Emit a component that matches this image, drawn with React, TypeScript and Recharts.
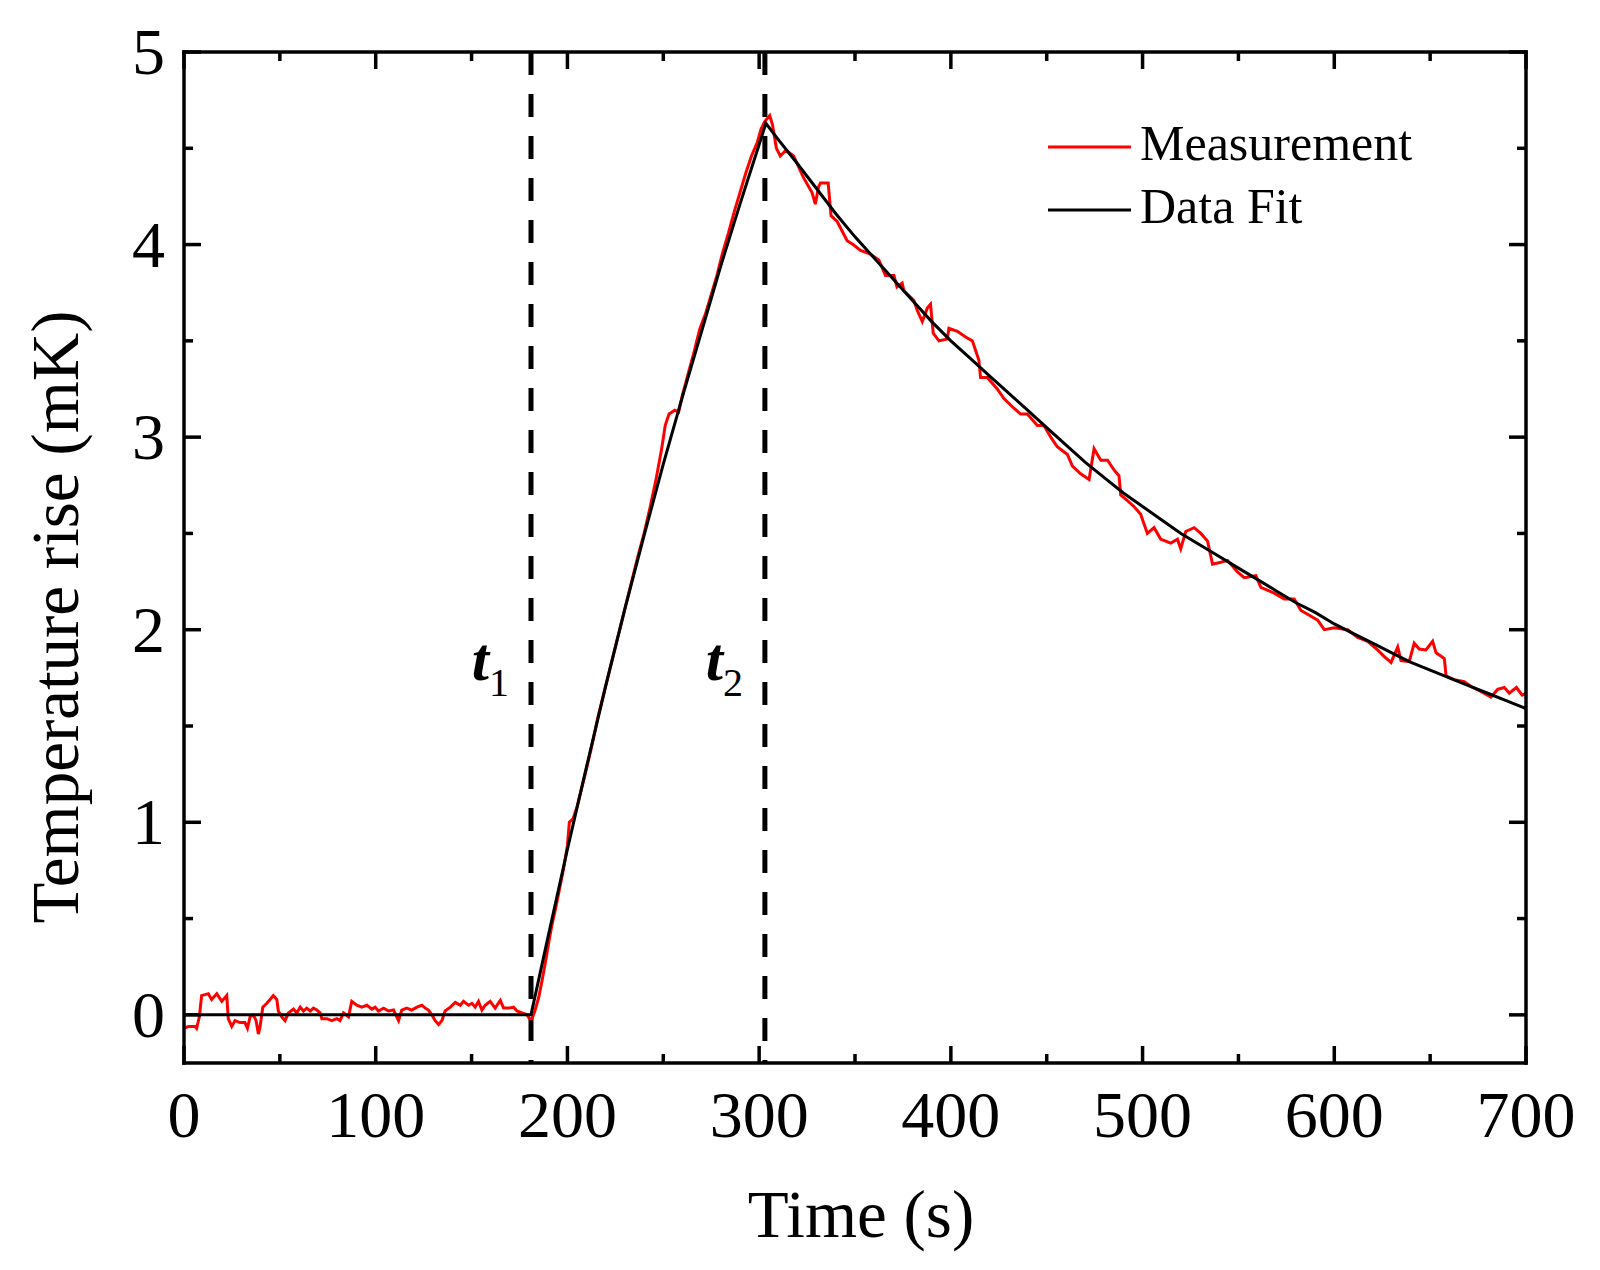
import { LineChart, Line, XAxis, YAxis, ReferenceLine, Legend } from "recharts";

const FONT = "'Liberation Serif', 'Times New Roman', Times, serif";

const measBefore = [
  [0, -0.07], [2.3, -0.06], [5.7, -0.06], [6.6, -0.07], [8, -0.01], [9.2, 0.1], [12.7, 0.11],
  [14.4, 0.08], [17.1, 0.11], [19.7, 0.07], [22.3, 0.1], [23.1, -0.02], [24.9, -0.06], [26.6, -0.03],
  [29.2, -0.04], [31.8, -0.04], [33.1, -0.07], [34.5, -0.01], [36.2, 0], [37.6, -0.03], [38.8, -0.1],
  [39.7, -0.06], [41.1, 0.04], [43.2, 0.06], [44.9, 0.08], [46.6, 0.1], [48.4, 0.08], [49.2, 0.02],
  [51, -0.01], [52.7, -0.03], [54.5, 0.01], [57.1, 0.03], [58.8, 0.01], [60.6, 0.04], [62.3, 0.02],
  [64, 0.035], [65.8, 0.02], [67.5, 0.035], [69.3, 0.025], [71, 0.01], [71.9, -0.02], [74.5, -0.02],
  [77.1, -0.03], [79.7, -0.02], [81.4, -0.03], [83.2, 0.01], [85.8, -0.01], [87.5, 0.07], [90.1, 0.05],
  [92.7, 0.04], [95.4, 0.05], [98, 0.03], [99.7, 0.04], [101.4, 0.02], [104.1, 0.035], [106.7, 0.02],
  [109.3, 0.025], [111.9, -0.03], [113.6, 0.025], [116.2, 0.035], [118.8, 0.025], [121.5, 0.04],
  [124.1, 0.05], [125.8, 0.035], [127.5, 0.025], [129.3, 0], [131, -0.03], [132.8, -0.05], [134.5, -0.03],
  [136.2, 0.02], [138.9, 0.04], [141.5, 0.065], [144.1, 0.05], [145.8, 0.07], [148.4, 0.05], [150.2, 0.06],
  [151.9, 0.04], [153.6, 0.07], [155.4, 0.025], [157.1, 0.05], [159.7, 0.07], [162.3, 0.035], [165, 0.075],
  [166.7, 0.035], [169.3, 0.035], [171.9, 0.04], [173.7, 0.02], [176.3, 0.01], [178.9, 0], [180.3, -0.02],
];

const measHeating = [
  [181.5, -0.02], [183, 0.02], [185, 0.09], [187, 0.19], [189, 0.3], [190.5, 0.39], [192, 0.47],
  [194, 0.56], [196, 0.66], [198, 0.76], [200, 0.88], [201, 1.0], [203, 1.02], [205, 1.08], [208, 1.2],
  [210, 1.28], [213, 1.41], [216, 1.55], [219, 1.67], [222, 1.79], [225, 1.91], [228, 2.03], [231, 2.15],
  [234, 2.27], [237, 2.39], [240, 2.5], [243, 2.63], [246, 2.77], [249, 2.93], [251, 3.06], [253, 3.12],
  [256, 3.14], [258, 3.13], [260, 3.22], [263, 3.33], [266, 3.44], [269, 3.56], [272, 3.64], [275, 3.74],
  [278, 3.84], [281, 3.96], [284, 4.06], [287, 4.17], [290, 4.27], [293, 4.37], [296, 4.46], [299, 4.53],
  [301, 4.6], [303, 4.64], [305.5, 4.67],
];

const measCooling = [
  [307, 4.62], [309, 4.5], [311, 4.46], [314, 4.49], [318, 4.46], [323, 4.35], [327.6, 4.27], [329.3, 4.21],
  [331, 4.3], [332, 4.32], [336, 4.32], [337.5, 4.15], [340.7, 4.12], [345.9, 4.02], [349, 4.0],
  [352.9, 3.97], [358.1, 3.95], [362.4, 3.92], [365.9, 3.84], [370.3, 3.84], [371.9, 3.78], [374.6, 3.8],
  [375.5, 3.76], [380.7, 3.71], [382.4, 3.66], [385.1, 3.6], [387.7, 3.67], [389.4, 3.69], [390.8, 3.54],
  [393.8, 3.5], [398.1, 3.51], [399, 3.565], [403.4, 3.55], [407.7, 3.52], [411.2, 3.5], [414.6, 3.4],
  [415.5, 3.31], [419, 3.31], [424.2, 3.25], [427.7, 3.2], [432.9, 3.15], [436.4, 3.12], [439.9, 3.12],
  [445.1, 3.06], [448.6, 3.06], [452.1, 3.0], [455.5, 2.95], [460.8, 2.91], [463.4, 2.85], [467.7, 2.81],
  [472.1, 2.78], [474.7, 2.94], [478.2, 2.88], [481.7, 2.88], [485.1, 2.83], [487.7, 2.8], [488.6, 2.7],
  [492.1, 2.67], [495.5, 2.64], [499, 2.6], [502.5, 2.5], [506, 2.53], [509.5, 2.47], [514.7, 2.45],
  [518.2, 2.47], [519.9, 2.42], [522.5, 2.51], [526.9, 2.53], [530.4, 2.5], [533.9, 2.46], [536.5, 2.34],
  [540.8, 2.35], [544.3, 2.36], [549.5, 2.3], [553, 2.27], [559.1, 2.28], [561.7, 2.22], [568.6, 2.19],
  [573.9, 2.16], [579.1, 2.16], [582.6, 2.1], [586.1, 2.08], [591.3, 2.05], [594.8, 2.0], [600, 2.01],
  [607, 2.0], [612.2, 1.96], [617.4, 1.94], [622.6, 1.895], [626.1, 1.86], [629.6, 1.83], [633.1, 1.91],
  [634.8, 1.84], [639.1, 1.835], [641.7, 1.93], [644.3, 1.9], [647.8, 1.895], [651.3, 1.94], [653.1, 1.88],
  [657.4, 1.85], [658.3, 1.76], [662.6, 1.74], [667.8, 1.73], [671.3, 1.705], [676.5, 1.68], [681.7, 1.65],
  [685.2, 1.69], [688.7, 1.7], [691.3, 1.67], [695, 1.7], [698, 1.66], [700, 1.67],
];

// fitted curve [time (s), mK]
const fitBefore = [[0, 0], [181, 0]];
const fitHeating = [
  [190, 0.41], [200, 0.86], [210, 1.29], [220, 1.71], [230, 2.11], [240, 2.49], [250, 2.86], [260, 3.21],
  [270, 3.55], [280, 3.89], [290, 4.21], [300, 4.52], [303.5, 4.63],
];
const fitCooling = [
  [310, 4.545], [320, 4.42], [330, 4.29], [340, 4.16], [350, 4.04], [360, 3.93], [370, 3.82], [380, 3.71],
  [390, 3.6], [400, 3.5], [410, 3.41], [420, 3.32], [430, 3.23], [440, 3.14], [450, 3.05], [460, 2.96],
  [470, 2.87], [480, 2.79], [490, 2.71], [500, 2.64], [510, 2.57], [520, 2.5], [530, 2.44], [540, 2.38],
  [550, 2.32], [560, 2.26], [570, 2.2], [580, 2.14], [590, 2.09], [600, 2.03], [610, 1.98], [620, 1.93],
  [630, 1.88], [640, 1.83], [650, 1.79], [660, 1.75], [670, 1.71], [680, 1.67], [690, 1.63], [700, 1.59],
];

const xTicks = [0, 50, 100, 150, 200, 250, 300, 350, 400, 450, 500, 550, 600, 650, 700];
const yTicks = [0, 0.5, 1, 1.5, 2, 2.5, 3, 3.5, 4, 4.5, 5];
const markerTimes = [181, 303];
const markerNames = ["1", "2"];
const seriesNames = ["Measurement", "Data Fit"];
const seriesColors = ["#ff0000", "#000000"];

const measData = [...measBefore, ...measHeating, ...measCooling].map(([t, v]) => ({ t, v }));
const fitData = [...fitBefore, ...fitHeating, ...fitCooling].map(([t, v]) => ({ t, v }));

const MAJOR = 17;
const MINOR = 9;
const AXIS_W = 3.5;
const axisLine = { stroke: "#000", strokeWidth: AXIS_W, strokeLinecap: "square" as const };

const BottomTick = ({ x, y, payload }: any) => {
  const major = payload.value % 100 === 0;
  return (
    <g>
      <line x1={x} y1={y} x2={x} y2={y - (major ? MAJOR : MINOR)} stroke="#000" strokeWidth={AXIS_W} />
      {major && (
        <text x={x} y={y + 74} textAnchor="middle" fontSize={66} fontFamily={FONT} fill="#000">
          {payload.value}
        </text>
      )}
    </g>
  );
};

const TopTick = ({ x, y, payload }: any) => {
  const major = payload.value % 100 === 0;
  return <line x1={x} y1={y} x2={x} y2={y + (major ? MAJOR : MINOR)} stroke="#000" strokeWidth={AXIS_W} />;
};

const LeftTick = ({ x, y, payload }: any) => {
  const major = Number.isInteger(payload.value);
  return (
    <g>
      <line x1={x} y1={y} x2={x + (major ? MAJOR : MINOR)} y2={y} stroke="#000" strokeWidth={AXIS_W} />
      {major && (
        <text x={x - 19} y={y + 22} textAnchor="end" fontSize={66} fontFamily={FONT} fill="#000">
          {payload.value}
        </text>
      )}
    </g>
  );
};

const RightTick = ({ x, y, payload }: any) => {
  const major = Number.isInteger(payload.value);
  return <line x1={x} y1={y} x2={x - (major ? MAJOR : MINOR)} y2={y} stroke="#000" strokeWidth={AXIS_W} />;
};

const renderLegend = () => (
  <svg width={420} height={130} style={{ display: "block" }}>
    {seriesNames.map((name, i) => (
      <g key={name}>
        <line x1={8} x2={91} y1={37 + i * 63} y2={37 + i * 63} stroke={seriesColors[i]} strokeWidth={3} />
        <text x={100} y={50 + i * 63.3} fontSize={50} fontFamily={FONT} fill="#000">
          {name}
        </text>
      </g>
    ))}
  </svg>
);

const markerLabel = (name: string) => (props: any) => {
  const vb = props.viewBox || {};
  return (
    <text x={vb.x - 22} y={vb.y + 628} textAnchor="end" fontFamily={FONT} fill="#000">
      <tspan fontStyle="italic" fontWeight="bold" fontSize={62}>t</tspan>
      <tspan fontSize={40} dy={16}>{name}</tspan>
    </text>
  );
};

export default function App() {
  return (
    <div style={{ position: "absolute", left: 0, top: 0, background: "#fff" }}>
      <LineChart width={1600} height={1270} margin={{ top: 51, right: 73, bottom: 0, left: 0 }}>
        <XAxis
          xAxisId="b"
          dataKey="t"
          type="number"
          domain={[0, 700]}
          ticks={xTicks}
          interval={0}
          allowDataOverflow
          height={207}
          tickSize={0}
          tickMargin={0}
          tickLine={false}
          axisLine={axisLine}
          tick={BottomTick}
          label={{
            content: (p: any) => (
              <text
                x={p.viewBox.x + p.viewBox.width / 2 + 6}
                y={p.viewBox.y + 174}
                textAnchor="middle"
                fontSize={67}
                fontFamily={FONT}
                fill="#000"
              >
                Time (s)
              </text>
            ),
          }}
        />
        <XAxis
          xAxisId="top"
          orientation="top"
          dataKey="t"
          type="number"
          domain={[0, 700]}
          ticks={xTicks}
          interval={0}
          allowDataOverflow
          height={1}
          tickSize={0}
          tickMargin={0}
          tickLine={false}
          axisLine={axisLine}
          tick={TopTick}
        />
        <YAxis
          yAxisId="l"
          type="number"
          domain={[-0.25, 5]}
          ticks={yTicks}
          interval={0}
          allowDataOverflow
          width={184}
          tickSize={0}
          tickMargin={0}
          tickLine={false}
          axisLine={axisLine}
          tick={LeftTick}
          label={{
            content: () => (
              <text
                transform="translate(78, 617) rotate(-90)"
                textAnchor="middle"
                fontSize={67}
                fontFamily={FONT}
                fill="#000"
              >
                Temperature rise (mK)
              </text>
            ),
          }}
        />
        <YAxis
          yAxisId="r"
          orientation="right"
          type="number"
          domain={[-0.25, 5]}
          ticks={yTicks}
          interval={0}
          allowDataOverflow
          width={1}
          tickSize={0}
          tickMargin={0}
          tickLine={false}
          axisLine={axisLine}
          tick={RightTick}
        />
        {markerTimes.map((t, i) => (
          <ReferenceLine
            key={t}
            xAxisId="b"
            yAxisId="l"
            segment={[{ x: t, y: 5 }, { x: t, y: -0.25 }]}
            ifOverflow="visible"
            stroke="#000"
            strokeWidth={5}
            strokeDasharray="23 19"
            label={{ content: markerLabel(markerNames[i]) }}
          />
        ))}
        <Line
          xAxisId="b"
          yAxisId="l"
          data={measData}
          dataKey="v"
          name={seriesNames[0]}
          type="linear"
          stroke={seriesColors[0]}
          strokeWidth={3}
          dot={false}
          activeDot={false}
          isAnimationActive={false}
        />
        <Line
          xAxisId="b"
          yAxisId="l"
          data={fitData}
          dataKey="v"
          name={seriesNames[1]}
          type="linear"
          stroke={seriesColors[1]}
          strokeWidth={3}
          dot={false}
          activeDot={false}
          isAnimationActive={false}
        />
        <Legend
          layout="vertical"
          align="center"
          verticalAlign="middle"
          wrapperStyle={{ left: 1040, top: 110, width: 420 }}
          content={renderLegend}
        />
      </LineChart>
    </div>
  );
}
